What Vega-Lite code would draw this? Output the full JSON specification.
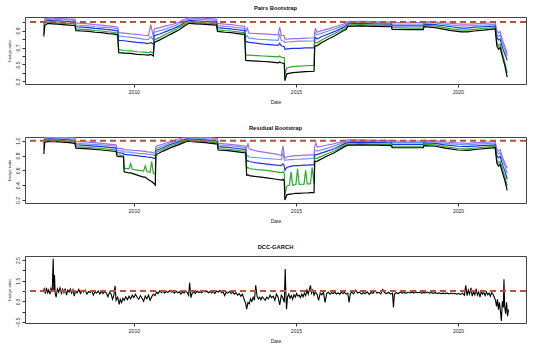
{
"$schema": "https://vega.github.io/schema/vega-lite/v6.json",
"background": "white",
"padding": {"left": 6, "top": 4, "right": 21, "bottom": 4},
"spacing": 53,
"bounds": "flush",
"config": {
  "font": "Liberation Sans",
  "view": {"stroke": "#444", "strokeWidth": 1},
  "axis": {"grid": false, "domain": false, "tickColor": "#333", "tickSize": 3, "labelFontSize": 5, "labelColor": "#222", "titleFontSize": 5, "titleFontWeight": "normal", "titleColor": "#222", "labelPadding": 2},
  "axisY": {"titleFontSize": 4.3, "titlePadding": 4},
  "axisX": {"titlePadding": 5},
  "title": {"fontSize": 5.8, "fontWeight": "bold", "color": "#111", "offset": 6}
},
"datasets": {
"pairs": [
{"t":2007.22,"a":0.83,"b":0.86,"c":0.90,"d":0.93,"e":0.96},
{"t":2007.25,"a":0.96,"b":0.985,"c":1.005,"d":1.025,"e":1.04},
{"t":2007.35,"a":0.985,"b":1.0,"c":1.02,"d":1.035,"e":1.045},
{"t":2007.5,"a":0.98,"b":0.995,"c":1.015,"d":1.03,"e":1.045},
{"t":2007.65,"a":0.975,"b":0.99,"c":1.015,"d":1.03,"e":1.04},
{"t":2007.8,"a":0.97,"b":0.985,"c":1.01,"d":1.025,"e":1.04},
{"t":2008.0,"a":0.965,"b":0.985,"c":1.005,"d":1.025,"e":1.035},
{"t":2008.18,"a":0.96,"b":0.98,"c":1.0,"d":1.02,"e":1.035},
{"t":2008.21,"a":0.90,"b":0.92,"c":0.945,"d":0.965,"e":0.99},
{"t":2008.4,"a":0.895,"b":0.915,"c":0.94,"d":0.96,"e":0.985},
{"t":2008.6,"a":0.89,"b":0.91,"c":0.935,"d":0.955,"e":0.98},
{"t":2008.8,"a":0.88,"b":0.90,"c":0.925,"d":0.945,"e":0.97},
{"t":2009.0,"a":0.875,"b":0.895,"c":0.92,"d":0.94,"e":0.965},
{"t":2009.2,"a":0.865,"b":0.885,"c":0.91,"d":0.935,"e":0.955},
{"t":2009.35,"a":0.86,"b":0.88,"c":0.905,"d":0.93,"e":0.95},
{"t":2009.5,"a":0.85,"b":0.87,"c":0.895,"d":0.92,"e":0.94},
{"t":2009.53,"a":0.64,"b":0.675,"c":0.785,"d":0.835,"e":0.875},
{"t":2009.7,"a":0.635,"b":0.665,"c":0.78,"d":0.83,"e":0.87},
{"t":2009.9,"a":0.63,"b":0.66,"c":0.77,"d":0.82,"e":0.86},
{"t":2010.1,"a":0.62,"b":0.65,"c":0.76,"d":0.81,"e":0.855},
{"t":2010.3,"a":0.615,"b":0.645,"c":0.755,"d":0.80,"e":0.845},
{"t":2010.45,"a":0.61,"b":0.64,"c":0.745,"d":0.795,"e":0.84},
{"t":2010.52,"a":0.62,"b":0.65,"c":0.76,"d":0.83,"e":0.97},
{"t":2010.6,"a":0.60,"b":0.635,"c":0.74,"d":0.79,"e":0.83},
{"t":2010.63,"a":0.76,"b":0.79,"c":0.84,"d":0.88,"e":0.92},
{"t":2010.8,"a":0.79,"b":0.82,"c":0.86,"d":0.90,"e":0.935},
{"t":2011.0,"a":0.83,"b":0.86,"c":0.89,"d":0.92,"e":0.955},
{"t":2011.2,"a":0.87,"b":0.895,"c":0.92,"d":0.95,"e":0.975},
{"t":2011.4,"a":0.91,"b":0.935,"c":0.955,"d":0.98,"e":1.0},
{"t":2011.55,"a":0.95,"b":0.97,"c":0.99,"d":1.01,"e":1.03},
{"t":2011.7,"a":0.985,"b":1.0,"c":1.02,"d":1.035,"e":1.05},
{"t":2011.9,"a":0.98,"b":0.995,"c":1.015,"d":1.035,"e":1.045},
{"t":2012.1,"a":0.975,"b":0.99,"c":1.01,"d":1.03,"e":1.045},
{"t":2012.3,"a":0.97,"b":0.985,"c":1.005,"d":1.025,"e":1.04},
{"t":2012.55,"a":0.965,"b":0.98,"c":1.0,"d":1.02,"e":1.035},
{"t":2012.58,"a":0.89,"b":0.91,"c":0.935,"d":0.96,"e":0.985},
{"t":2012.8,"a":0.88,"b":0.90,"c":0.925,"d":0.95,"e":0.975},
{"t":2013.0,"a":0.875,"b":0.895,"c":0.92,"d":0.945,"e":0.97},
{"t":2013.2,"a":0.865,"b":0.885,"c":0.91,"d":0.935,"e":0.96},
{"t":2013.42,"a":0.855,"b":0.875,"c":0.90,"d":0.925,"e":0.95},
{"t":2013.45,"a":0.55,"b":0.615,"c":0.765,"d":0.815,"e":0.88},
{"t":2013.5,"a":0.545,"b":0.61,"c":0.77,"d":0.84,"e":0.93},
{"t":2013.55,"a":0.545,"b":0.61,"c":0.76,"d":0.81,"e":0.87},
{"t":2013.8,"a":0.54,"b":0.605,"c":0.75,"d":0.80,"e":0.865},
{"t":2014.0,"a":0.535,"b":0.60,"c":0.74,"d":0.795,"e":0.86},
{"t":2014.2,"a":0.53,"b":0.595,"c":0.735,"d":0.79,"e":0.855},
{"t":2014.45,"a":0.52,"b":0.59,"c":0.725,"d":0.785,"e":0.85},
{"t":2014.5,"a":0.53,"b":0.60,"c":0.75,"d":0.86,"e":0.94},
{"t":2014.55,"a":0.52,"b":0.585,"c":0.72,"d":0.78,"e":0.845},
{"t":2014.64,"a":0.51,"b":0.58,"c":0.71,"d":0.775,"e":0.84},
{"t":2014.66,"a":0.31,"b":0.38,"c":0.68,"d":0.76,"e":0.80},
{"t":2014.72,"a":0.39,"b":0.46,"c":0.685,"d":0.765,"e":0.80},
{"t":2014.9,"a":0.405,"b":0.475,"c":0.69,"d":0.77,"e":0.805},
{"t":2015.1,"a":0.41,"b":0.48,"c":0.69,"d":0.775,"e":0.805},
{"t":2015.3,"a":0.415,"b":0.485,"c":0.695,"d":0.775,"e":0.81},
{"t":2015.56,"a":0.42,"b":0.49,"c":0.695,"d":0.78,"e":0.815},
{"t":2015.58,"a":0.71,"b":0.75,"c":0.80,"d":0.845,"e":0.875},
{"t":2015.6,"a":0.72,"b":0.76,"c":0.82,"d":0.87,"e":0.93},
{"t":2015.65,"a":0.72,"b":0.755,"c":0.80,"d":0.85,"e":0.88},
{"t":2015.8,"a":0.76,"b":0.79,"c":0.83,"d":0.87,"e":0.90},
{"t":2016.0,"a":0.80,"b":0.83,"c":0.86,"d":0.895,"e":0.92},
{"t":2016.2,"a":0.84,"b":0.865,"c":0.89,"d":0.92,"e":0.945},
{"t":2016.45,"a":0.895,"b":0.915,"c":0.935,"d":0.955,"e":0.975},
{"t":2016.56,"a":0.915,"b":0.935,"c":0.955,"d":0.975,"e":0.99},
{"t":2016.6,"a":0.95,"b":0.965,"c":0.98,"d":0.995,"e":1.005},
{"t":2017.0,"a":0.955,"b":0.97,"c":0.985,"d":1.0,"e":1.01},
{"t":2017.4,"a":0.95,"b":0.965,"c":0.98,"d":0.995,"e":1.005},
{"t":2017.95,"a":0.945,"b":0.96,"c":0.975,"d":0.99,"e":1.0},
{"t":2017.97,"a":0.915,"b":0.935,"c":0.955,"d":0.975,"e":0.995},
{"t":2018.5,"a":0.91,"b":0.93,"c":0.955,"d":0.975,"e":0.995},
{"t":2018.93,"a":0.91,"b":0.93,"c":0.955,"d":0.975,"e":0.995},
{"t":2018.95,"a":0.945,"b":0.96,"c":0.975,"d":0.99,"e":1.005},
{"t":2019.3,"a":0.935,"b":0.955,"c":0.97,"d":0.99,"e":1.0},
{"t":2019.5,"a":0.92,"b":0.94,"c":0.96,"d":0.98,"e":0.995},
{"t":2019.8,"a":0.90,"b":0.92,"c":0.945,"d":0.965,"e":0.985},
{"t":2020.1,"a":0.885,"b":0.905,"c":0.93,"d":0.955,"e":0.975},
{"t":2020.3,"a":0.885,"b":0.905,"c":0.93,"d":0.955,"e":0.975},
{"t":2020.5,"a":0.895,"b":0.915,"c":0.94,"d":0.96,"e":0.98},
{"t":2020.8,"a":0.905,"b":0.925,"c":0.945,"d":0.965,"e":0.985},
{"t":2021.0,"a":0.915,"b":0.93,"c":0.95,"d":0.97,"e":0.99},
{"t":2021.15,"a":0.92,"b":0.935,"c":0.955,"d":0.975,"e":0.995},
{"t":2021.2,"a":0.72,"b":0.76,"c":0.82,"d":0.86,"e":0.90},
{"t":2021.25,"a":0.68,"b":0.72,"c":0.79,"d":0.83,"e":0.87},
{"t":2021.3,"a":0.70,"b":0.74,"c":0.80,"d":0.85,"e":0.89},
{"t":2021.38,"a":0.58,"b":0.62,"c":0.69,"d":0.74,"e":0.78},
{"t":2021.45,"a":0.48,"b":0.52,"c":0.62,"d":0.67,"e":0.71},
{"t":2021.52,"a":0.35,"b":0.40,"c":0.55,"d":0.60,"e":0.63}
],
"resid": [
{"t":2007.22,"a":0.82,"b":0.88,"c":0.92,"d":0.95,"e":0.97},
{"t":2007.25,"a":0.98,"b":1.0,"c":1.02,"d":1.035,"e":1.05},
{"t":2007.4,"a":0.99,"b":1.005,"c":1.025,"d":1.04,"e":1.05},
{"t":2007.7,"a":0.985,"b":1.0,"c":1.02,"d":1.035,"e":1.045},
{"t":2008.0,"a":0.975,"b":0.99,"c":1.01,"d":1.03,"e":1.045},
{"t":2008.18,"a":0.965,"b":0.98,"c":1.0,"d":1.02,"e":1.035},
{"t":2008.21,"a":0.90,"b":0.92,"c":0.945,"d":0.965,"e":0.99},
{"t":2008.6,"a":0.89,"b":0.91,"c":0.935,"d":0.955,"e":0.98},
{"t":2009.0,"a":0.875,"b":0.895,"c":0.92,"d":0.945,"e":0.965},
{"t":2009.45,"a":0.855,"b":0.875,"c":0.90,"d":0.925,"e":0.945},
{"t":2009.48,"a":0.79,"b":0.81,"c":0.84,"d":0.87,"e":0.90},
{"t":2009.68,"a":0.78,"b":0.80,"c":0.83,"d":0.86,"e":0.89},
{"t":2009.7,"a":0.58,"b":0.63,"c":0.815,"d":0.85,"e":0.88},
{"t":2009.85,"a":0.565,"b":0.62,"c":0.81,"d":0.845,"e":0.875},
{"t":2009.9,"a":0.565,"b":0.69,"c":0.81,"d":0.845,"e":0.875},
{"t":2009.95,"a":0.56,"b":0.615,"c":0.805,"d":0.84,"e":0.87},
{"t":2010.15,"a":0.53,"b":0.60,"c":0.795,"d":0.83,"e":0.865},
{"t":2010.3,"a":0.51,"b":0.59,"c":0.785,"d":0.825,"e":0.855},
{"t":2010.35,"a":0.51,"b":0.66,"c":0.785,"d":0.825,"e":0.86},
{"t":2010.4,"a":0.49,"b":0.585,"c":0.78,"d":0.82,"e":0.85},
{"t":2010.5,"a":0.46,"b":0.575,"c":0.775,"d":0.815,"e":0.845},
{"t":2010.55,"a":0.45,"b":0.72,"c":0.775,"d":0.815,"e":0.845},
{"t":2010.6,"a":0.43,"b":0.56,"c":0.765,"d":0.805,"e":0.835},
{"t":2010.66,"a":0.40,"b":0.55,"c":0.76,"d":0.80,"e":0.83},
{"t":2010.68,"a":0.81,"b":0.84,"c":0.87,"d":0.90,"e":0.925},
{"t":2010.9,"a":0.86,"b":0.885,"c":0.905,"d":0.93,"e":0.955},
{"t":2011.1,"a":0.90,"b":0.925,"c":0.945,"d":0.965,"e":0.985},
{"t":2011.35,"a":0.94,"b":0.96,"c":0.98,"d":1.0,"e":1.02},
{"t":2011.65,"a":0.995,"b":1.01,"c":1.025,"d":1.04,"e":1.055},
{"t":2011.9,"a":0.985,"b":1.0,"c":1.02,"d":1.035,"e":1.05},
{"t":2012.2,"a":0.975,"b":0.99,"c":1.01,"d":1.03,"e":1.045},
{"t":2012.58,"a":0.955,"b":0.97,"c":0.99,"d":1.01,"e":1.03},
{"t":2012.6,"a":0.875,"b":0.895,"c":0.92,"d":0.945,"e":0.965},
{"t":2012.9,"a":0.865,"b":0.885,"c":0.91,"d":0.935,"e":0.955},
{"t":2013.2,"a":0.85,"b":0.87,"c":0.895,"d":0.92,"e":0.94},
{"t":2013.45,"a":0.835,"b":0.855,"c":0.88,"d":0.905,"e":0.925},
{"t":2013.48,"a":0.535,"b":0.63,"c":0.725,"d":0.785,"e":0.90},
{"t":2013.52,"a":0.54,"b":0.64,"c":0.73,"d":0.80,"e":0.96},
{"t":2013.56,"a":0.53,"b":0.625,"c":0.72,"d":0.78,"e":0.89},
{"t":2013.8,"a":0.515,"b":0.61,"c":0.70,"d":0.77,"e":0.86},
{"t":2014.1,"a":0.50,"b":0.60,"c":0.685,"d":0.76,"e":0.84},
{"t":2014.4,"a":0.48,"b":0.58,"c":0.67,"d":0.75,"e":0.82},
{"t":2014.55,"a":0.47,"b":0.57,"c":0.665,"d":0.745,"e":0.80},
{"t":2014.6,"a":0.48,"b":0.58,"c":0.69,"d":0.84,"e":0.93},
{"t":2014.64,"a":0.46,"b":0.56,"c":0.66,"d":0.74,"e":0.80},
{"t":2014.66,"a":0.20,"b":0.27,"c":0.60,"d":0.735,"e":0.76},
{"t":2014.72,"a":0.27,"b":0.39,"c":0.64,"d":0.74,"e":0.78},
{"t":2014.8,"a":0.28,"b":0.40,"c":0.65,"d":0.745,"e":0.79},
{"t":2014.85,"a":0.28,"b":0.58,"c":0.655,"d":0.745,"e":0.79},
{"t":2014.9,"a":0.285,"b":0.40,"c":0.66,"d":0.745,"e":0.795},
{"t":2015.0,"a":0.29,"b":0.41,"c":0.665,"d":0.75,"e":0.80},
{"t":2015.05,"a":0.29,"b":0.62,"c":0.665,"d":0.75,"e":0.80},
{"t":2015.1,"a":0.29,"b":0.41,"c":0.665,"d":0.75,"e":0.80},
{"t":2015.25,"a":0.295,"b":0.415,"c":0.67,"d":0.755,"e":0.805},
{"t":2015.3,"a":0.295,"b":0.60,"c":0.67,"d":0.755,"e":0.805},
{"t":2015.35,"a":0.295,"b":0.415,"c":0.67,"d":0.755,"e":0.805},
{"t":2015.45,"a":0.30,"b":0.42,"c":0.675,"d":0.76,"e":0.81},
{"t":2015.5,"a":0.30,"b":0.64,"c":0.675,"d":0.76,"e":0.81},
{"t":2015.56,"a":0.30,"b":0.42,"c":0.675,"d":0.76,"e":0.81},
{"t":2015.58,"a":0.72,"b":0.76,"c":0.81,"d":0.86,"e":0.92},
{"t":2015.62,"a":0.72,"b":0.76,"c":0.81,"d":0.87,"e":0.97},
{"t":2015.66,"a":0.725,"b":0.765,"c":0.815,"d":0.86,"e":0.915},
{"t":2015.9,"a":0.78,"b":0.81,"c":0.85,"d":0.89,"e":0.935},
{"t":2016.2,"a":0.84,"b":0.865,"c":0.895,"d":0.93,"e":0.96},
{"t":2016.5,"a":0.92,"b":0.94,"c":0.96,"d":0.98,"e":1.0},
{"t":2016.6,"a":0.94,"b":0.955,"c":0.975,"d":0.99,"e":1.01},
{"t":2017.0,"a":0.945,"b":0.96,"c":0.98,"d":0.995,"e":1.01},
{"t":2017.5,"a":0.94,"b":0.955,"c":0.975,"d":0.99,"e":1.005},
{"t":2017.95,"a":0.935,"b":0.95,"c":0.97,"d":0.99,"e":1.005},
{"t":2017.97,"a":0.905,"b":0.925,"c":0.95,"d":0.975,"e":0.995},
{"t":2018.93,"a":0.905,"b":0.925,"c":0.95,"d":0.975,"e":0.995},
{"t":2018.95,"a":0.935,"b":0.95,"c":0.97,"d":0.99,"e":1.005},
{"t":2019.3,"a":0.925,"b":0.945,"c":0.965,"d":0.985,"e":1.0},
{"t":2019.6,"a":0.90,"b":0.92,"c":0.945,"d":0.965,"e":0.985},
{"t":2020.0,"a":0.875,"b":0.895,"c":0.925,"d":0.95,"e":0.97},
{"t":2020.3,"a":0.87,"b":0.89,"c":0.92,"d":0.945,"e":0.965},
{"t":2020.6,"a":0.885,"b":0.905,"c":0.93,"d":0.955,"e":0.975},
{"t":2021.0,"a":0.90,"b":0.92,"c":0.94,"d":0.965,"e":0.985},
{"t":2021.15,"a":0.905,"b":0.925,"c":0.945,"d":0.97,"e":0.99},
{"t":2021.2,"a":0.70,"b":0.74,"c":0.80,"d":0.85,"e":0.89},
{"t":2021.25,"a":0.66,"b":0.70,"c":0.77,"d":0.82,"e":0.86},
{"t":2021.3,"a":0.68,"b":0.72,"c":0.79,"d":0.84,"e":0.88},
{"t":2021.38,"a":0.56,"b":0.61,"c":0.67,"d":0.73,"e":0.77},
{"t":2021.45,"a":0.46,"b":0.51,"c":0.59,"d":0.66,"e":0.70},
{"t":2021.52,"a":0.33,"b":0.39,"c":0.48,"d":0.56,"e":0.63}
],
"dcc": [
{"t":2007.20,"v":0.95},{"t":2007.23,"v":1.10},{"t":2007.27,"v":0.88},{"t":2007.30,"v":1.15},{"t":2007.34,"v":0.92},{"t":2007.37,"v":1.05},{"t":2007.41,"v":0.85},{"t":2007.44,"v":1.12},{"t":2007.48,"v":0.95},{"t":2007.51,"v":2.57},{"t":2007.53,"v":1.00},{"t":2007.55,"v":1.78},{"t":2007.57,"v":0.90},{"t":2007.60,"v":0.70},{"t":2007.64,"v":1.10},{"t":2007.68,"v":0.95},{"t":2007.72,"v":1.15},{"t":2007.76,"v":0.88},{"t":2007.80,"v":1.08},{"t":2007.84,"v":0.92},{"t":2007.88,"v":1.12},{"t":2007.92,"v":0.80},{"t":2007.96,"v":1.05},{"t":2008.00,"v":0.95},{"t":2008.04,"v":1.10},{"t":2008.08,"v":0.90},{"t":2008.12,"v":1.06},{"t":2008.16,"v":0.75},{"t":2008.20,"v":1.00},{"t":2008.25,"v":0.92},{"t":2008.30,"v":1.08},{"t":2008.35,"v":0.88},{"t":2008.40,"v":1.02},{"t":2008.45,"v":0.95},{"t":2008.50,"v":1.05},{"t":2008.55,"v":0.85},{"t":2008.60,"v":0.98},{"t":2008.65,"v":0.93},{"t":2008.70,"v":1.02},{"t":2008.75,"v":0.80},{"t":2008.80,"v":0.96},{"t":2008.85,"v":0.90},{"t":2008.90,"v":1.00},{"t":2008.95,"v":0.86},{"t":2009.00,"v":0.97},{"t":2009.05,"v":0.88},{"t":2009.10,"v":0.98},{"t":2009.15,"v":0.90},{"t":2009.20,"v":0.72},{"t":2009.25,"v":0.95},{"t":2009.30,"v":0.85},{"t":2009.34,"v":0.60},{"t":2009.38,"v":0.78},{"t":2009.42,"v":1.25},{"t":2009.45,"v":0.55},{"t":2009.50,"v":0.70},{"t":2009.55,"v":0.35},{"t":2009.58,"v":0.60},{"t":2009.62,"v":0.45},{"t":2009.66,"v":0.65},{"t":2009.70,"v":0.55},{"t":2009.75,"v":0.72},{"t":2009.80,"v":0.58},{"t":2009.85,"v":0.75},{"t":2009.90,"v":0.62},{"t":2009.95,"v":0.80},{"t":2010.00,"v":0.68},{"t":2010.05,"v":0.85},{"t":2010.10,"v":0.70},{"t":2010.15,"v":0.60},{"t":2010.20,"v":0.78},{"t":2010.25,"v":0.65},{"t":2010.30,"v":0.50},{"t":2010.35,"v":0.75},{"t":2010.40,"v":0.62},{"t":2010.45,"v":0.80},{"t":2010.50,"v":0.55},{"t":2010.55,"v":0.72},{"t":2010.60,"v":0.85},{"t":2010.65,"v":0.78},{"t":2010.70,"v":0.95},{"t":2010.75,"v":0.88},{"t":2010.80,"v":1.02},{"t":2010.85,"v":0.92},{"t":2010.90,"v":1.00},{"t":2010.95,"v":0.90},{"t":2011.00,"v":0.98},{"t":2011.05,"v":0.93},{"t":2011.10,"v":1.02},{"t":2011.15,"v":0.95},{"t":2011.20,"v":0.98},{"t":2011.25,"v":0.90},{"t":2011.30,"v":1.00},{"t":2011.35,"v":0.92},{"t":2011.40,"v":0.97},{"t":2011.45,"v":0.85},{"t":2011.50,"v":0.95},{"t":2011.55,"v":0.90},{"t":2011.60,"v":1.00},{"t":2011.65,"v":0.93},{"t":2011.69,"v":0.80},{"t":2011.72,"v":1.40},{"t":2011.76,"v":0.68},{"t":2011.80,"v":0.90},{"t":2011.85,"v":0.95},{"t":2011.90,"v":0.88},{"t":2011.95,"v":1.00},{"t":2012.00,"v":0.93},{"t":2012.05,"v":0.97},{"t":2012.10,"v":0.92},{"t":2012.15,"v":1.02},{"t":2012.20,"v":0.95},{"t":2012.25,"v":1.00},{"t":2012.30,"v":0.92},{"t":2012.35,"v":0.98},{"t":2012.40,"v":0.90},{"t":2012.45,"v":0.97},{"t":2012.50,"v":0.88},{"t":2012.55,"v":1.00},{"t":2012.60,"v":0.95},{"t":2012.65,"v":1.03},{"t":2012.70,"v":0.92},{"t":2012.75,"v":0.98},{"t":2012.80,"v":0.78},{"t":2012.85,"v":0.95},{"t":2012.90,"v":0.90},{"t":2012.95,"v":0.98},{"t":2013.00,"v":0.88},{"t":2013.05,"v":0.95},{"t":2013.10,"v":0.85},{"t":2013.15,"v":0.92},{"t":2013.20,"v":0.80},{"t":2013.25,"v":0.88},{"t":2013.30,"v":0.75},{"t":2013.35,"v":0.85},{"t":2013.40,"v":0.60},{"t":2013.45,"v":0.40},{"t":2013.48,"v":0.12},{"t":2013.52,"v":0.45},{"t":2013.56,"v":0.38},{"t":2013.60,"v":0.62},{"t":2013.64,"v":0.50},{"t":2013.68,"v":0.70},{"t":2013.72,"v":0.55},{"t":2013.76,"v":1.28},{"t":2013.80,"v":0.75},{"t":2013.84,"v":0.62},{"t":2013.88,"v":0.70},{"t":2013.92,"v":0.58},{"t":2013.96,"v":0.72},{"t":2014.00,"v":0.65},{"t":2014.05,"v":0.55},{"t":2014.10,"v":0.70},{"t":2014.15,"v":0.62},{"t":2014.20,"v":0.80},{"t":2014.25,"v":0.68},{"t":2014.30,"v":0.75},{"t":2014.35,"v":0.55},{"t":2014.40,"v":0.85},{"t":2014.45,"v":0.70},{"t":2014.50,"v":0.33},{"t":2014.55,"v":0.80},{"t":2014.60,"v":0.65},{"t":2014.64,"v":0.45},{"t":2014.67,"v":2.07},{"t":2014.69,"v":0.90},{"t":2014.71,"v":0.12},{"t":2014.74,"v":0.70},{"t":2014.78,"v":0.85},{"t":2014.82,"v":0.65},{"t":2014.86,"v":0.78},{"t":2014.90,"v":0.60},{"t":2014.94,"v":0.82},{"t":2014.98,"v":0.70},{"t":2015.02,"v":0.88},{"t":2015.06,"v":0.75},{"t":2015.10,"v":0.80},{"t":2015.14,"v":0.68},{"t":2015.18,"v":0.85},{"t":2015.22,"v":0.72},{"t":2015.26,"v":0.90},{"t":2015.30,"v":0.78},{"t":2015.34,"v":1.05},{"t":2015.38,"v":0.85},{"t":2015.42,"v":1.10},{"t":2015.45,"v":1.28},{"t":2015.48,"v":0.90},{"t":2015.52,"v":1.05},{"t":2015.56,"v":0.80},{"t":2015.60,"v":0.95},{"t":2015.65,"v":0.85},{"t":2015.70,"v":0.55},{"t":2015.75,"v":0.90},{"t":2015.80,"v":0.82},{"t":2015.85,"v":0.95},{"t":2015.90,"v":0.45},{"t":2015.95,"v":0.88},{"t":2016.00,"v":0.95},{"t":2016.05,"v":0.85},{"t":2016.10,"v":0.92},{"t":2016.15,"v":0.88},{"t":2016.20,"v":0.95},{"t":2016.25,"v":0.86},{"t":2016.30,"v":0.92},{"t":2016.35,"v":0.84},{"t":2016.40,"v":0.95},{"t":2016.45,"v":0.88},{"t":2016.50,"v":0.93},{"t":2016.55,"v":0.85},{"t":2016.60,"v":0.90},{"t":2016.64,"v":0.45},{"t":2016.68,"v":0.88},{"t":2016.72,"v":0.95},{"t":2016.78,"v":0.86},{"t":2016.84,"v":1.05},{"t":2016.90,"v":0.90},{"t":2016.96,"v":0.95},{"t":2017.02,"v":0.85},{"t":2017.08,"v":0.92},{"t":2017.14,"v":0.88},{"t":2017.20,"v":0.96},{"t":2017.26,"v":0.84},{"t":2017.32,"v":0.93},{"t":2017.38,"v":0.89},{"t":2017.44,"v":1.02},{"t":2017.50,"v":0.90},{"t":2017.56,"v":0.94},{"t":2017.62,"v":0.86},{"t":2017.68,"v":1.08},{"t":2017.74,"v":0.92},{"t":2017.80,"v":0.88},{"t":2017.86,"v":0.94},{"t":2017.92,"v":0.85},{"t":2017.98,"v":0.90},{"t":2018.01,"v":0.20},{"t":2018.04,"v":0.85},{"t":2018.10,"v":0.92},{"t":2018.16,"v":0.88},{"t":2018.22,"v":0.95},{"t":2018.28,"v":0.90},{"t":2018.34,"v":0.93},{"t":2018.40,"v":0.89},{"t":2018.46,"v":0.95},{"t":2018.52,"v":0.91},{"t":2018.58,"v":0.94},{"t":2018.64,"v":0.90},{"t":2018.70,"v":0.96},{"t":2018.76,"v":0.92},{"t":2018.82,"v":0.94},{"t":2018.88,"v":0.90},{"t":2018.94,"v":0.93},{"t":2019.00,"v":0.91},{"t":2019.06,"v":0.95},{"t":2019.12,"v":0.90},{"t":2019.18,"v":0.93},{"t":2019.24,"v":0.89},{"t":2019.30,"v":0.92},{"t":2019.36,"v":0.88},{"t":2019.42,"v":0.91},{"t":2019.48,"v":0.87},{"t":2019.54,"v":0.90},{"t":2019.60,"v":0.88},{"t":2019.66,"v":0.91},{"t":2019.72,"v":0.86},{"t":2019.78,"v":0.90},{"t":2019.84,"v":0.87},{"t":2019.90,"v":0.89},{"t":2019.96,"v":0.85},{"t":2020.02,"v":0.88},{"t":2020.08,"v":0.84},{"t":2020.14,"v":0.90},{"t":2020.20,"v":0.80},{"t":2020.24,"v":1.28},{"t":2020.28,"v":0.78},{"t":2020.32,"v":1.05},{"t":2020.36,"v":0.85},{"t":2020.40,"v":1.15},{"t":2020.44,"v":0.75},{"t":2020.48,"v":0.95},{"t":2020.52,"v":0.82},{"t":2020.56,"v":1.10},{"t":2020.60,"v":0.80},{"t":2020.64,"v":0.95},{"t":2020.68,"v":0.70},{"t":2020.72,"v":1.00},{"t":2020.76,"v":0.85},{"t":2020.80,"v":0.92},{"t":2020.84,"v":0.78},{"t":2020.88,"v":0.95},{"t":2020.92,"v":0.82},{"t":2020.96,"v":0.90},{"t":2021.00,"v":0.75},{"t":2021.04,"v":0.92},{"t":2021.08,"v":0.85},{"t":2021.12,"v":0.70},{"t":2021.16,"v":0.55},{"t":2021.19,"v":0.25},{"t":2021.22,"v":0.60},{"t":2021.25,"v":0.10},{"t":2021.28,"v":0.45},{"t":2021.31,"v":0.05},{"t":2021.34,"v":-0.45},{"t":2021.37,"v":0.50},{"t":2021.40,"v":0.20},{"t":2021.42,"v":1.57},{"t":2021.44,"v":0.30},{"t":2021.47,"v":-0.10},{"t":2021.50,"v":0.45},{"t":2021.53,"v":-0.22},{"t":2021.56,"v":0.10}
]
},
"vconcat": [
{
  "title": "Pairs Bootstrap",
  "width": 501, "height": 67,
  "layer": [
    {"data": {"name": "pairs"},
     "transform": [{"fold": ["e","d","c","b","a"], "as": ["q","v"]}],
     "mark": {"type": "line", "strokeWidth": 1.2, "clip": true},
     "encoding": {
       "x": {"field": "t", "type": "quantitative", "scale": {"domain": [2006.64, 2022.1], "nice": false, "zero": false}, "axis": {"values": [2010,2015,2020], "format": "d", "title": "Date"}},
       "y": {"field": "v", "type": "quantitative", "scale": {"domain": [0.27, 1.06], "nice": false, "zero": false}, "axis": {"tickCount": 8, "format": ".1f", "labelOverlap": false, "labelAngle": 270, "labelAlign": "center", "labelBaseline": "bottom", "labelExpr": "round(datum.value*10) % 2 == 1 ? datum.label : ''", "title": "hedge ratio"}},
       "color": {"field": "q", "type": "nominal", "scale": {"domain": ["a","b","c","d","e"], "range": ["#000000","#2ca82c","#2233d8","#7393f0","#a06ce6"]}, "legend": null}
     }},
    {"data": {"values": [{}]},
     "mark": {"type": "rule", "color": "#b4543c", "strokeWidth": 2, "strokeDash": [6,4]},
     "encoding": {"y": {"datum": 1.0}}}
  ]
},
{
  "title": "Residual Bootstrap",
  "width": 501, "height": 66,
  "layer": [
    {"data": {"name": "resid"},
     "transform": [{"fold": ["e","d","c","b","a"], "as": ["q","v"]}],
     "mark": {"type": "line", "strokeWidth": 1.2, "clip": true},
     "encoding": {
       "x": {"field": "t", "type": "quantitative", "scale": {"domain": [2006.64, 2022.1], "nice": false, "zero": false}, "axis": {"values": [2010,2015,2020], "format": "d", "title": "Date"}},
       "y": {"field": "v", "type": "quantitative", "scale": {"domain": [0.16, 1.05], "nice": false, "zero": false}, "axis": {"tickCount": 5, "format": ".1f", "labelOverlap": false, "labelAngle": 270, "labelAlign": "center", "labelBaseline": "bottom", "title": "hedge ratio"}},
       "color": {"field": "q", "type": "nominal", "scale": {"domain": ["a","b","c","d","e"], "range": ["#000000","#2ca82c","#2233d8","#7393f0","#a06ce6"]}, "legend": null}
     }},
    {"data": {"values": [{}]},
     "mark": {"type": "rule", "color": "#b4543c", "strokeWidth": 2, "strokeDash": [6,4]},
     "encoding": {"y": {"datum": 1.0}}}
  ]
},
{
  "title": "DCC-GARCH",
  "width": 501, "height": 67,
  "layer": [
    {"data": {"name": "dcc"},
     "mark": {"type": "line", "strokeWidth": 1.1, "color": "#000000", "clip": true},
     "encoding": {
       "x": {"field": "t", "type": "quantitative", "scale": {"domain": [2006.64, 2022.1], "nice": false, "zero": false}, "axis": {"values": [2010,2015,2020], "format": "d", "title": "Date"}},
       "y": {"field": "v", "type": "quantitative", "scale": {"domain": [-0.55, 2.7], "nice": false, "zero": false}, "axis": {"tickCount": 7, "format": ".1f", "labelOverlap": false, "labelAngle": 270, "labelAlign": "center", "labelBaseline": "bottom", "labelExpr": "abs(round(datum.value*2)) % 2 == 1 ? datum.label : ''", "title": "hedge ratio"}}
     }},
    {"data": {"values": [{}]},
     "mark": {"type": "rule", "color": "#b4543c", "strokeWidth": 2, "strokeDash": [6,4]},
     "encoding": {"y": {"datum": 1.0}}}
  ]
}
]
}
